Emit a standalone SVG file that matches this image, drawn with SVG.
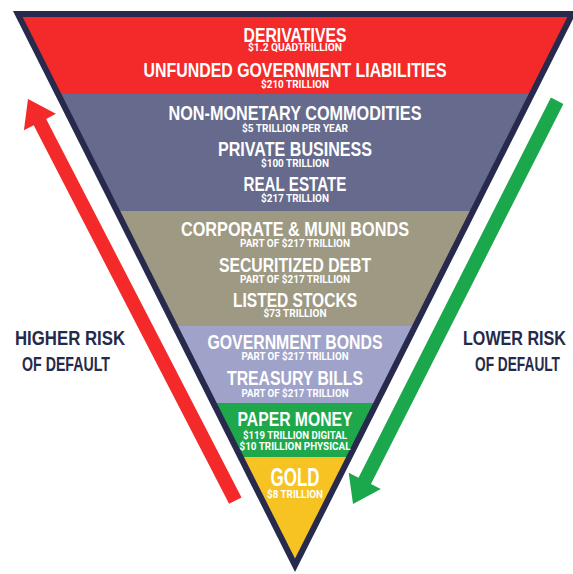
<svg xmlns="http://www.w3.org/2000/svg" width="573" height="574" viewBox="0 0 573 574">
  <style>
    .title { font-family: "Liberation Sans", "DejaVu Sans", sans-serif; font-weight: bold; font-size: 21px; fill: #ffffff; text-anchor: middle; }
    .sub { font-family: "Roboto", "Liberation Sans", sans-serif; font-weight: bold; font-size: 10px; fill: #ffffff; text-anchor: middle; }
    .side { font-family: "Liberation Sans", "DejaVu Sans", sans-serif; font-weight: bold; font-size: 21px; fill: #262a4a; text-anchor: middle; }
  </style>
  <defs>
    <clipPath id="inner">
      <polygon points="22.7,17 567.3,17 295,558.6"/>
    </clipPath>
    <!-- arrow pointing up, tip at origin -->
    <path id="arrowUp" d="M0,0 L18,26 L7,26 L7,452 L-7,452 L-7,26 L-18,26 Z"/>
  </defs>
  <rect width="573" height="574" fill="#ffffff"/>

  <!-- connectors: risk arrows -->
  <g id="connectors">
    <use href="#arrowUp" fill="#f42a2a" transform="translate(28,99) rotate(-27.3)"/>
    <use href="#arrowUp" fill="#1ba74b" transform="translate(353,504) rotate(-153.15)"/>
  </g>

  <!-- pyramid frame and bands -->
  <g id="pyramid">
    <polygon points="13,11 577,11 295,572" fill="#272a4c"/>
    <g clip-path="url(#inner)">
      <rect x="0" y="17" width="573" height="77" fill="#f42a2a"/>
      <rect x="0" y="94" width="573" height="117" fill="#666a8c"/>
      <rect x="0" y="211" width="573" height="115" fill="#9e9982"/>
      <rect x="0" y="326" width="573" height="77" fill="#a0a3c9"/>
      <rect x="0" y="403" width="573" height="54" fill="#1ea84b"/>
      <rect x="0" y="457" width="573" height="110" fill="#f6c323"/>
    </g>
  </g>

  <g id="derivatives">
    <text class="title" x="295" y="42" textLength="103" lengthAdjust="spacingAndGlyphs">DERIVATIVES</text>
    <text class="sub" x="295" y="51" textLength="94" lengthAdjust="spacingAndGlyphs">$1.2 QUADTRILLION</text>
  </g>
  <g id="unfunded-liabilities">
    <text class="title" x="295" y="77" textLength="303" lengthAdjust="spacingAndGlyphs">UNFUNDED GOVERNMENT LIABILITIES</text>
    <text class="sub" x="295" y="87.5" textLength="68" lengthAdjust="spacingAndGlyphs">$210 TRILLION</text>
  </g>
  <g id="commodities">
    <text class="title" x="295" y="119.5" textLength="253" lengthAdjust="spacingAndGlyphs">NON-MONETARY COMMODITIES</text>
    <text class="sub" x="295" y="131.5" textLength="106" lengthAdjust="spacingAndGlyphs">$5 TRILLION PER YEAR</text>
  </g>
  <g id="private-business">
    <text class="title" x="295" y="156" textLength="154" lengthAdjust="spacingAndGlyphs">PRIVATE BUSINESS</text>
    <text class="sub" x="295" y="167" textLength="68" lengthAdjust="spacingAndGlyphs">$100 TRILLION</text>
  </g>
  <g id="real-estate">
    <text class="title" x="295" y="190.7" textLength="103" lengthAdjust="spacingAndGlyphs">REAL ESTATE</text>
    <text class="sub" x="295" y="202" textLength="68" lengthAdjust="spacingAndGlyphs">$217 TRILLION</text>
  </g>
  <g id="corporate-bonds">
    <text class="title" x="295" y="235.7" textLength="228" lengthAdjust="spacingAndGlyphs">CORPORATE &amp; MUNI BONDS</text>
    <text class="sub" x="295" y="246.7" textLength="110" lengthAdjust="spacingAndGlyphs">PART OF $217 TRILLION</text>
  </g>
  <g id="securitized-debt">
    <text class="title" x="295" y="272.3" textLength="152" lengthAdjust="spacingAndGlyphs">SECURITIZED DEBT</text>
    <text class="sub" x="295" y="282.7" textLength="110" lengthAdjust="spacingAndGlyphs">PART OF $217 TRILLION</text>
  </g>
  <g id="listed-stocks">
    <text class="title" x="295" y="307.3" textLength="124" lengthAdjust="spacingAndGlyphs">LISTED STOCKS</text>
    <text class="sub" x="295" y="317.3" textLength="63" lengthAdjust="spacingAndGlyphs">$73 TRILLION</text>
  </g>
  <g id="government-bonds">
    <text class="title" x="295" y="349.3" textLength="175" lengthAdjust="spacingAndGlyphs">GOVERNMENT BONDS</text>
    <text class="sub" x="295" y="360" textLength="107" lengthAdjust="spacingAndGlyphs">PART OF $217 TRILLION</text>
  </g>
  <g id="treasury-bills">
    <text class="title" x="295" y="385" textLength="136" lengthAdjust="spacingAndGlyphs">TREASURY BILLS</text>
    <text class="sub" x="295" y="396.7" textLength="107" lengthAdjust="spacingAndGlyphs">PART OF $217 TRILLION</text>
  </g>
  <g id="paper-money">
    <text class="title" x="295" y="426" textLength="115" lengthAdjust="spacingAndGlyphs">PAPER MONEY</text>
    <text class="sub" x="295" y="439" textLength="104" lengthAdjust="spacingAndGlyphs">$119 TRILLION DIGITAL</text>
    <text class="sub" x="295" y="449.5" textLength="111" lengthAdjust="spacingAndGlyphs">$10 TRILLION PHYSICAL</text>
  </g>
  <g id="gold">
    <text class="title" x="295" y="485.7" style="font-size:25px" textLength="49" lengthAdjust="spacingAndGlyphs">GOLD</text>
    <text class="sub" x="295" y="497.7" textLength="56" lengthAdjust="spacingAndGlyphs">$8 TRILLION</text>
  </g>

  <!-- side captions, drawn narrow -->
  <g id="higher-risk">
    <text class="side" transform="translate(70,345) scale(0.75,1)" textLength="146.7" lengthAdjust="spacingAndGlyphs">HIGHER RISK</text>
    <text class="side" transform="translate(66,371) scale(0.75,1)" textLength="117.3" lengthAdjust="spacingAndGlyphs">OF DEFAULT</text>
  </g>
  <g id="lower-risk">
    <text class="side" transform="translate(514.5,345) scale(0.75,1)" textLength="137.3" lengthAdjust="spacingAndGlyphs">LOWER RISK</text>
    <text class="side" transform="translate(517.5,371) scale(0.75,1)" textLength="113.3" lengthAdjust="spacingAndGlyphs">OF DEFAULT</text>
  </g>
</svg>
